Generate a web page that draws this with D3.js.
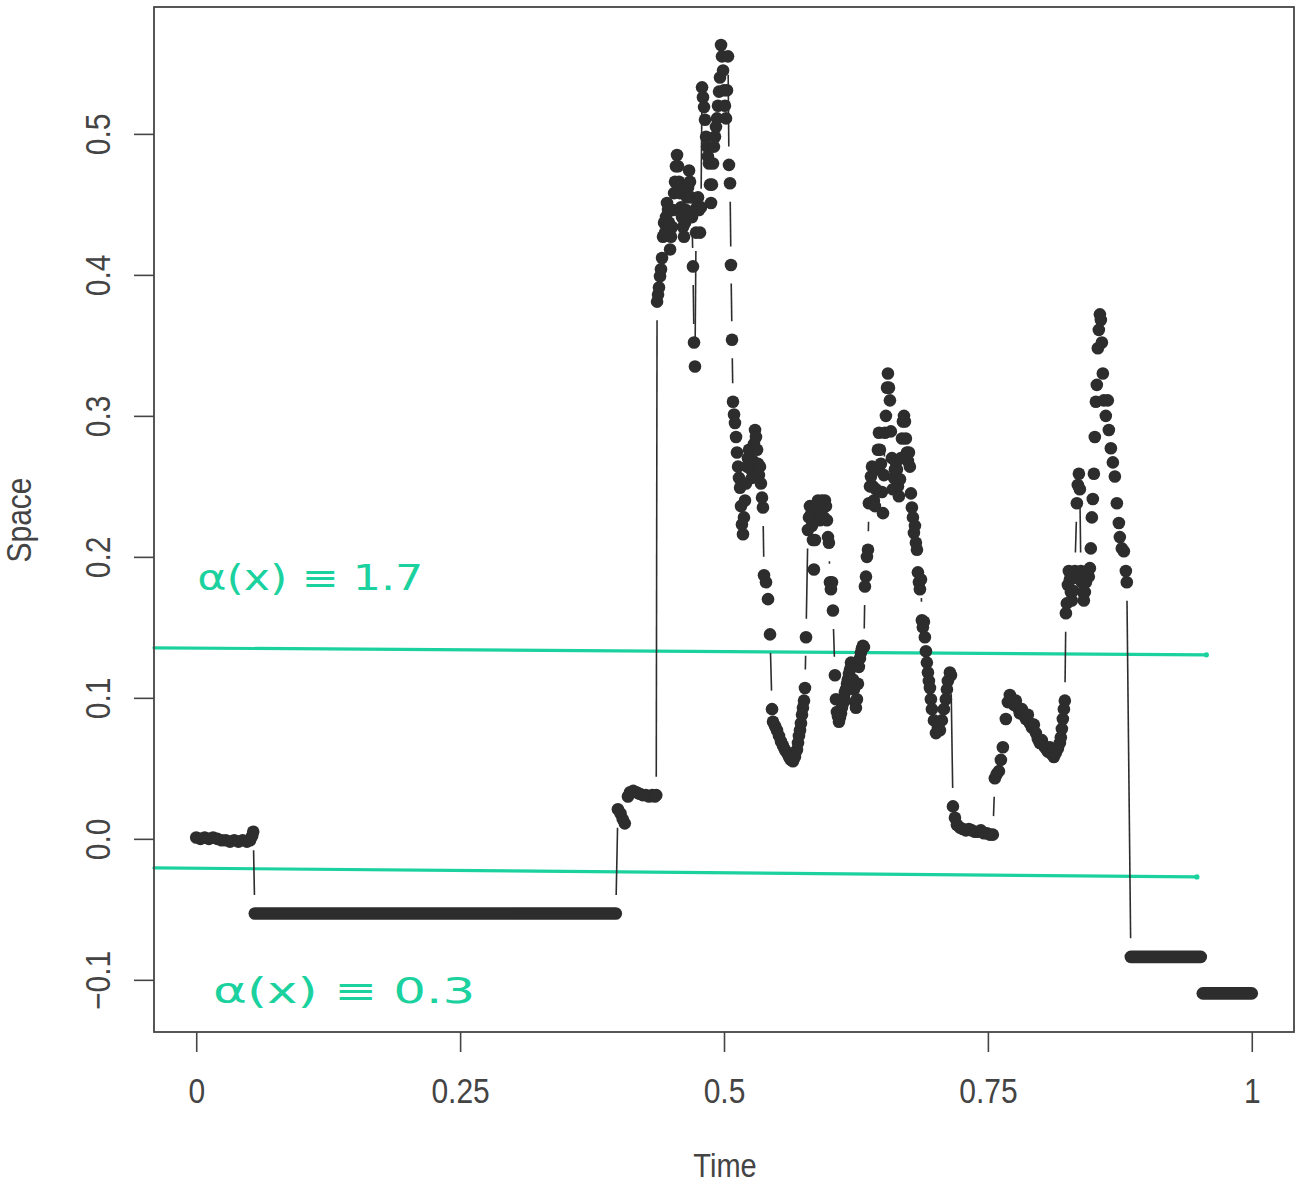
<!DOCTYPE html>
<html>
<head>
<meta charset="utf-8">
<script src="https://cdn.jsdelivr.net/npm/d3@7"></script>
<style>
  body { margin: 0; background: #ffffff; }
  svg { display: block; }
</style>
</head>
<body>
<svg id="chart" width="1296" height="1184"></svg>
<script>
// ---- axis ticks -----------------------------------------------------------
const timeTicks = [0, 0.25, 0.5, 0.75, 1];
const timeTickLabels = ["0", "0.25", "0.5", "0.75", "1"];
const spaceTicks = [-0.1, 0, 0.1, 0.2, 0.3, 0.4, 0.5];
const spaceTickLabels = ["\u22120.1", "0.0", "0.1", "0.2", "0.3", "0.4", "0.5"];

// ---- path of the process: [time, space] ----------------------------------
// opening stretch just around zero
const startRun = [
  [0.000, 0.001], [0.004, 0.000], [0.008, 0.001], [0.012, 0.000], [0.016, 0.001],
  [0.020, 0.000], [0.024, -0.001], [0.028, -0.001], [0.032, -0.002], [0.036, -0.001],
  [0.040, -0.002], [0.044, -0.001], [0.048, -0.002], [0.051, -0.001], [0.053, 0.002],
  [0.054, 0.005]
];

// long frozen stretch: [time from, time to, space]
const flatA = [0.0555, 0.3975, -0.053];

// the active stretch
const midRun = [
  [0.3995, 0.021], [0.4020, 0.018], [0.4040, 0.014], [0.4060, 0.011], [0.4090, 0.030],
  [0.4110, 0.033], [0.4140, 0.034], [0.4170, 0.033], [0.4200, 0.032], [0.4230, 0.031],
  [0.4260, 0.031], [0.4290, 0.030], [0.4320, 0.031], [0.4345, 0.030], [0.4358, 0.031],
  // jump into the big excursion
  [0.4366, 0.381], [0.4375, 0.386], [0.4384, 0.391], [0.4394, 0.399], [0.4403, 0.404],
  [0.4413, 0.412], [0.4422, 0.427], [0.4432, 0.437], [0.4441, 0.430], [0.4451, 0.441],
  [0.4460, 0.451], [0.4470, 0.446], [0.4479, 0.437], [0.4489, 0.418], [0.4498, 0.427],
  [0.4508, 0.434], [0.4517, 0.446], [0.4527, 0.458], [0.4536, 0.466], [0.4545, 0.477],
  [0.4555, 0.485], [0.4564, 0.477], [0.4574, 0.466], [0.4583, 0.458], [0.4593, 0.448],
  [0.4602, 0.441], [0.4612, 0.434], [0.4621, 0.427], [0.4631, 0.437], [0.4640, 0.446],
  [0.4650, 0.455], [0.4659, 0.462], [0.4669, 0.474], [0.4678, 0.466], [0.4688, 0.455],
  [0.4697, 0.441], [0.4706, 0.406], [0.4716, 0.352], [0.4725, 0.335], [0.4735, 0.430],
  [0.4744, 0.448], [0.4754, 0.455], [0.4763, 0.446], [0.4773, 0.430], [0.4782, 0.448],
  [0.4792, 0.533], [0.4801, 0.526], [0.4811, 0.519], [0.4820, 0.510], [0.4830, 0.498],
  [0.4839, 0.491], [0.4848, 0.484], [0.4858, 0.479], [0.4867, 0.464], [0.4877, 0.451],
  [0.4886, 0.464], [0.4896, 0.479], [0.4905, 0.491], [0.4915, 0.498], [0.4924, 0.505],
  [0.4934, 0.511], [0.4943, 0.520], [0.4953, 0.530], [0.4962, 0.540], [0.4972, 0.563],
  [0.4981, 0.555], [0.4991, 0.545], [0.5000, 0.531], [0.5009, 0.520], [0.5019, 0.511],
  [0.5028, 0.531], [0.5038, 0.555], [0.5047, 0.478], [0.5057, 0.465], [0.5066, 0.407],
  [0.5076, 0.354], [0.5085, 0.310], [0.5095, 0.301],
  [0.5104, 0.295], [0.5114, 0.285], [0.5123, 0.274], [0.5133, 0.264], [0.5142, 0.256],
  [0.5152, 0.249], [0.5161, 0.236], [0.5170, 0.223], [0.5180, 0.216], [0.5189, 0.228],
  [0.5199, 0.240], [0.5208, 0.252], [0.5218, 0.264], [0.5227, 0.270], [0.5237, 0.276],
  [0.5246, 0.268], [0.5256, 0.262], [0.5265, 0.256], [0.5275, 0.268], [0.5284, 0.280],
  [0.5294, 0.290], [0.5303, 0.285], [0.5313, 0.276], [0.5322, 0.266], [0.5331, 0.258],
  [0.5341, 0.264], [0.5350, 0.252], [0.5360, 0.242], [0.5369, 0.235], [0.5379, 0.187],
  [0.5398, 0.182], [0.5417, 0.170], [0.5436, 0.145],
  [0.5455, 0.092], [0.5464, 0.083], [0.5483, 0.080], [0.5502, 0.077], [0.5521, 0.073],
  [0.5540, 0.069], [0.5559, 0.066], [0.5578, 0.063], [0.5597, 0.061], [0.5616, 0.058],
  [0.5634, 0.056], [0.5653, 0.055], [0.5672, 0.058], [0.5691, 0.063], [0.5701, 0.068],
  [0.5710, 0.073], [0.5720, 0.077], [0.5729, 0.082], [0.5739, 0.088], [0.5748, 0.093],
  [0.5758, 0.098], [0.5767, 0.107], [0.5777, 0.143],
  [0.5795, 0.219], [0.5805, 0.228], [0.5814, 0.236], [0.5824, 0.230], [0.5833, 0.222],
  [0.5843, 0.212], [0.5852, 0.191], [0.5862, 0.212], [0.5871, 0.226], [0.5881, 0.234],
  [0.5890, 0.240], [0.5900, 0.232], [0.5909, 0.226], [0.5919, 0.230], [0.5928, 0.240],
  [0.5938, 0.236], [0.5947, 0.228], [0.5956, 0.240], [0.5966, 0.236], [0.5975, 0.226],
  [0.5985, 0.214], [0.5994, 0.210], [0.6004, 0.182], [0.6013, 0.177], [0.6023, 0.182],
  [0.6032, 0.162], [0.6051, 0.116],
  [0.6061, 0.099], [0.6070, 0.090], [0.6080, 0.087], [0.6089, 0.083], [0.6098, 0.086],
  [0.6108, 0.089], [0.6117, 0.093], [0.6127, 0.096], [0.6136, 0.100], [0.6146, 0.104],
  [0.6155, 0.106], [0.6165, 0.110], [0.6174, 0.113], [0.6184, 0.117], [0.6193, 0.120],
  [0.6203, 0.125], [0.6212, 0.122], [0.6222, 0.113], [0.6231, 0.106], [0.6241, 0.097],
  [0.6250, 0.093], [0.6259, 0.099], [0.6269, 0.110], [0.6278, 0.122], [0.6288, 0.128],
  [0.6297, 0.132], [0.6307, 0.135], [0.6316, 0.137], [0.6326, 0.136], [0.6335, 0.179],
  [0.6345, 0.186], [0.6354, 0.200], [0.6364, 0.205],
  [0.6373, 0.238], [0.6383, 0.250], [0.6392, 0.257], [0.6402, 0.264], [0.6411, 0.250],
  [0.6420, 0.240], [0.6430, 0.236], [0.6439, 0.248], [0.6449, 0.262], [0.6458, 0.276],
  [0.6468, 0.288], [0.6477, 0.276], [0.6487, 0.266], [0.6496, 0.246], [0.6506, 0.231],
  [0.6515, 0.258], [0.6525, 0.288], [0.6534, 0.300], [0.6544, 0.320], [0.6553, 0.330],
  [0.6563, 0.320], [0.6572, 0.311], [0.6581, 0.289], [0.6591, 0.270], [0.6600, 0.248],
  [0.6610, 0.256], [0.6619, 0.262], [0.6629, 0.267], [0.6638, 0.262], [0.6648, 0.250],
  [0.6657, 0.243], [0.6667, 0.255], [0.6676, 0.270], [0.6686, 0.284], [0.6695, 0.296],
  [0.6705, 0.300], [0.6714, 0.296], [0.6723, 0.284], [0.6733, 0.274], [0.6742, 0.268],
  [0.6752, 0.274], [0.6761, 0.264], [0.6771, 0.245], [0.6780, 0.235], [0.6790, 0.228],
  [0.6799, 0.217], [0.6809, 0.222], [0.6818, 0.210], [0.6828, 0.205], [0.6837, 0.189],
  [0.6847, 0.182], [0.6856, 0.177], [0.6866, 0.184], [0.6875, 0.155], [0.6884, 0.150],
  [0.6894, 0.154], [0.6903, 0.143], [0.6913, 0.133], [0.6922, 0.125], [0.6932, 0.118],
  [0.6941, 0.112], [0.6951, 0.107], [0.6960, 0.099], [0.6970, 0.092], [0.6989, 0.084],
  [0.7008, 0.075], [0.7027, 0.079], [0.7045, 0.077], [0.7064, 0.084], [0.7083, 0.092],
  [0.7102, 0.099], [0.7112, 0.106], [0.7121, 0.112], [0.7140, 0.118], [0.7150, 0.116],
  [0.7169, 0.023], [0.7188, 0.015], [0.7206, 0.010], [0.7235, 0.008], [0.7263, 0.007],
  [0.7292, 0.006], [0.7320, 0.007], [0.7348, 0.006], [0.7377, 0.005], [0.7405, 0.005],
  [0.7434, 0.006], [0.7462, 0.004], [0.7491, 0.004], [0.7519, 0.003], [0.7547, 0.003],
  [0.7566, 0.043], [0.7585, 0.046], [0.7604, 0.048], [0.7623, 0.056], [0.7642, 0.065],
  [0.7670, 0.085], [0.7689, 0.097],
  [0.7708, 0.102], [0.7727, 0.099], [0.7746, 0.095], [0.7765, 0.098], [0.7784, 0.093],
  [0.7803, 0.089], [0.7822, 0.092], [0.7841, 0.088], [0.7860, 0.085], [0.7879, 0.088],
  [0.7898, 0.082], [0.7917, 0.079], [0.7936, 0.081], [0.7955, 0.075], [0.7973, 0.071],
  [0.7992, 0.068], [0.8011, 0.070], [0.8030, 0.066], [0.8049, 0.064], [0.8068, 0.062],
  [0.8087, 0.065], [0.8106, 0.060], [0.8125, 0.058], [0.8144, 0.061], [0.8163, 0.064],
  [0.8182, 0.068], [0.8191, 0.072], [0.8201, 0.078], [0.8210, 0.085], [0.8220, 0.092],
  [0.8229, 0.098],
  [0.8239, 0.160], [0.8248, 0.167], [0.8258, 0.180], [0.8267, 0.190], [0.8277, 0.184],
  [0.8286, 0.175], [0.8295, 0.169], [0.8305, 0.176], [0.8314, 0.185], [0.8324, 0.190],
  [0.8343, 0.238], [0.8352, 0.251], [0.8362, 0.259], [0.8371, 0.248], [0.8381, 0.190],
  [0.8390, 0.182], [0.8400, 0.175], [0.8409, 0.169], [0.8419, 0.175], [0.8428, 0.182],
  [0.8438, 0.188], [0.8447, 0.190], [0.8456, 0.186], [0.8466, 0.192], [0.8475, 0.206],
  [0.8485, 0.228], [0.8494, 0.241], [0.8504, 0.259], [0.8513, 0.285], [0.8523, 0.310],
  [0.8532, 0.322], [0.8542, 0.348], [0.8551, 0.361], [0.8561, 0.372], [0.8570, 0.368],
  [0.8580, 0.352], [0.8589, 0.330], [0.8598, 0.311], [0.8617, 0.300], [0.8636, 0.311],
  [0.8646, 0.290], [0.8665, 0.277], [0.8684, 0.267], [0.8703, 0.257], [0.8722, 0.238],
  [0.8741, 0.224], [0.8750, 0.214], [0.8769, 0.206], [0.8788, 0.204], [0.8807, 0.190],
  [0.8816, 0.182]
];

// two closing frozen stretches: [time from, time to, space]
const flatB = [0.8854, 0.9517, -0.0837];
const flatC = [0.9536, 1.0000, -0.1096];

// hand-drawn regime guides: [time, space] at both ends
const upperGuide = [[-0.040, 0.1355], [0.957, 0.1305]];
const lowerGuide = [[-0.040, -0.0206], [0.948, -0.0270]];
const guideLabels = ["\u03b1(x) \u2261 1.7", "\u03b1(x) \u2261 0.3"];

// ---- scales ---------------------------------------------------------------
const svg = d3.select("#chart");
const box = { left: 154, right: 1294, top: 7, bottom: 1032 };
const x = d3.scaleLinear().domain([-0.04, 1.04]).range([box.left, box.right]);
const y = d3.scaleLinear().domain([-0.137, 0.590]).range([box.bottom, box.top]);

const ink = "#2d2d2d";
const axisInk = "#454545";
const marker = "#1bd29f";
const r = 6.3;      // dot radius
const gap = 18.5;   // clearance left around each dot by the connecting lines
const stretch = 1.17;

// ---- guides (under the path) ---------------------------------------------
const guideLine = d3.line().x(d => x(d[0])).y(d => y(d[1]));
[upperGuide, lowerGuide].forEach(g => {
  svg.append("path")
    .attr("d", guideLine(g))
    .attr("fill", "none")
    .attr("stroke", marker)
    .attr("stroke-width", 3.2)
    .attr("stroke-linecap", "round");
  svg.append("circle")
    .attr("cx", x(g[1][0])).attr("cy", y(g[1][1]))
    .attr("r", 2.6).attr("fill", marker);
});

// ---- connecting lines between consecutive observations --------------------
const nodes = []
  .concat(startRun)
  .concat([[flatA[0], flatA[2]], [flatA[1], flatA[2]]])
  .concat(midRun)
  .concat([[flatB[0], flatB[2]], [flatB[1], flatB[2]]])
  .concat([[flatC[0], flatC[2]], [flatC[1], flatC[2]]]);

const segs = [];
for (let i = 0; i < nodes.length - 1; i++) {
  const x1 = x(nodes[i][0]), y1 = y(nodes[i][1]);
  const x2 = x(nodes[i + 1][0]), y2 = y(nodes[i + 1][1]);
  const d = Math.hypot(x2 - x1, y2 - y1);
  if (d > 2 * gap) {
    const ux = (x2 - x1) / d, uy = (y2 - y1) / d;
    segs.push([x1 + ux * gap, y1 + uy * gap, x2 - ux * gap, y2 - uy * gap]);
  }
}
svg.append("g").selectAll("line").data(segs).join("line")
  .attr("x1", d => d[0]).attr("y1", d => d[1])
  .attr("x2", d => d[2]).attr("y2", d => d[3])
  .attr("stroke", ink).attr("stroke-width", 1.6);

// ---- frozen stretches: dots packed so densely they read as a bar ----------
svg.append("g").selectAll("line").data([flatA, flatB, flatC]).join("line")
  .attr("x1", d => x(d[0])).attr("x2", d => x(d[1]))
  .attr("y1", d => y(d[2])).attr("y2", d => y(d[2]))
  .attr("stroke", ink).attr("stroke-width", 2 * r)
  .attr("stroke-linecap", "round");

// ---- dots -----------------------------------------------------------------
svg.append("g").selectAll("circle").data(startRun.concat(midRun)).join("circle")
  .attr("cx", d => x(d[0])).attr("cy", d => y(d[1]))
  .attr("r", r).attr("fill", ink);

// ---- frame ----------------------------------------------------------------
svg.append("rect")
  .attr("x", box.left).attr("y", box.top)
  .attr("width", box.right - box.left).attr("height", box.bottom - box.top)
  .attr("fill", "none").attr("stroke", axisInk).attr("stroke-width", 1.8);

// ---- axes -----------------------------------------------------------------
const fontFam = "'Liberation Sans', Arial, Helvetica, sans-serif";

const gx = svg.append("g")
  .attr("transform", `translate(0,${box.bottom})`)
  .call(d3.axisBottom(x).tickValues(timeTicks)
    .tickFormat((d, i) => timeTickLabels[i]).tickSize(20));
gx.select(".domain").remove();
gx.selectAll(".tick line").attr("stroke", axisInk).attr("stroke-width", 1.6);
gx.selectAll(".tick text")
  .attr("fill", "#444").attr("font-family", fontFam).attr("font-size", 30)
  .attr("dy", null).attr("y", 71 / stretch)
  .attr("transform", `scale(1,${stretch})`);

const gy = svg.append("g")
  .attr("transform", `translate(${box.left},0)`)
  .call(d3.axisLeft(y).tickValues(spaceTicks)
    .tickFormat((d, i) => spaceTickLabels[i]).tickSize(20));
gy.select(".domain").remove();
gy.selectAll(".tick line").attr("stroke", axisInk).attr("stroke-width", 1.6);
gy.selectAll(".tick text")
  .attr("fill", "#444").attr("font-family", fontFam).attr("font-size", 30)
  .attr("x", 0).attr("y", 0).attr("dy", null)
  .attr("text-anchor", "middle")
  .attr("transform", `translate(-44,0) rotate(-90) scale(1,${stretch})`);

// axis titles
svg.append("text")
  .attr("transform", `translate(${(box.left + box.right) / 2 + 1},1177) scale(1,${stretch})`)
  .attr("text-anchor", "middle")
  .attr("font-family", fontFam).attr("font-size", 29).attr("fill", "#444")
  .text("Time");
svg.append("text")
  .attr("transform", `translate(31,520) rotate(-90) scale(1,${stretch})`)
  .attr("text-anchor", "middle")
  .attr("font-family", fontFam).attr("font-size", 30).attr("fill", "#444")
  .text("Space");

// ---- hand-written regime notes -------------------------------------------
const noteFont = "'DejaVu Sans', sans-serif";
svg.append("text")
  .attr("x", x(0.001)).attr("y", y(0.1766))
  .attr("font-family", noteFont).attr("font-size", 36)
  .attr("fill", marker)
  .attr("textLength", 226).attr("lengthAdjust", "spacingAndGlyphs")
  .text(guideLabels[0]);
svg.append("text")
  .attr("x", x(0.016)).attr("y", y(-0.1163))
  .attr("font-family", noteFont).attr("font-size", 36)
  .attr("fill", marker)
  .attr("textLength", 262).attr("lengthAdjust", "spacingAndGlyphs")
  .text(guideLabels[1]);
</script>
</body>
</html>
